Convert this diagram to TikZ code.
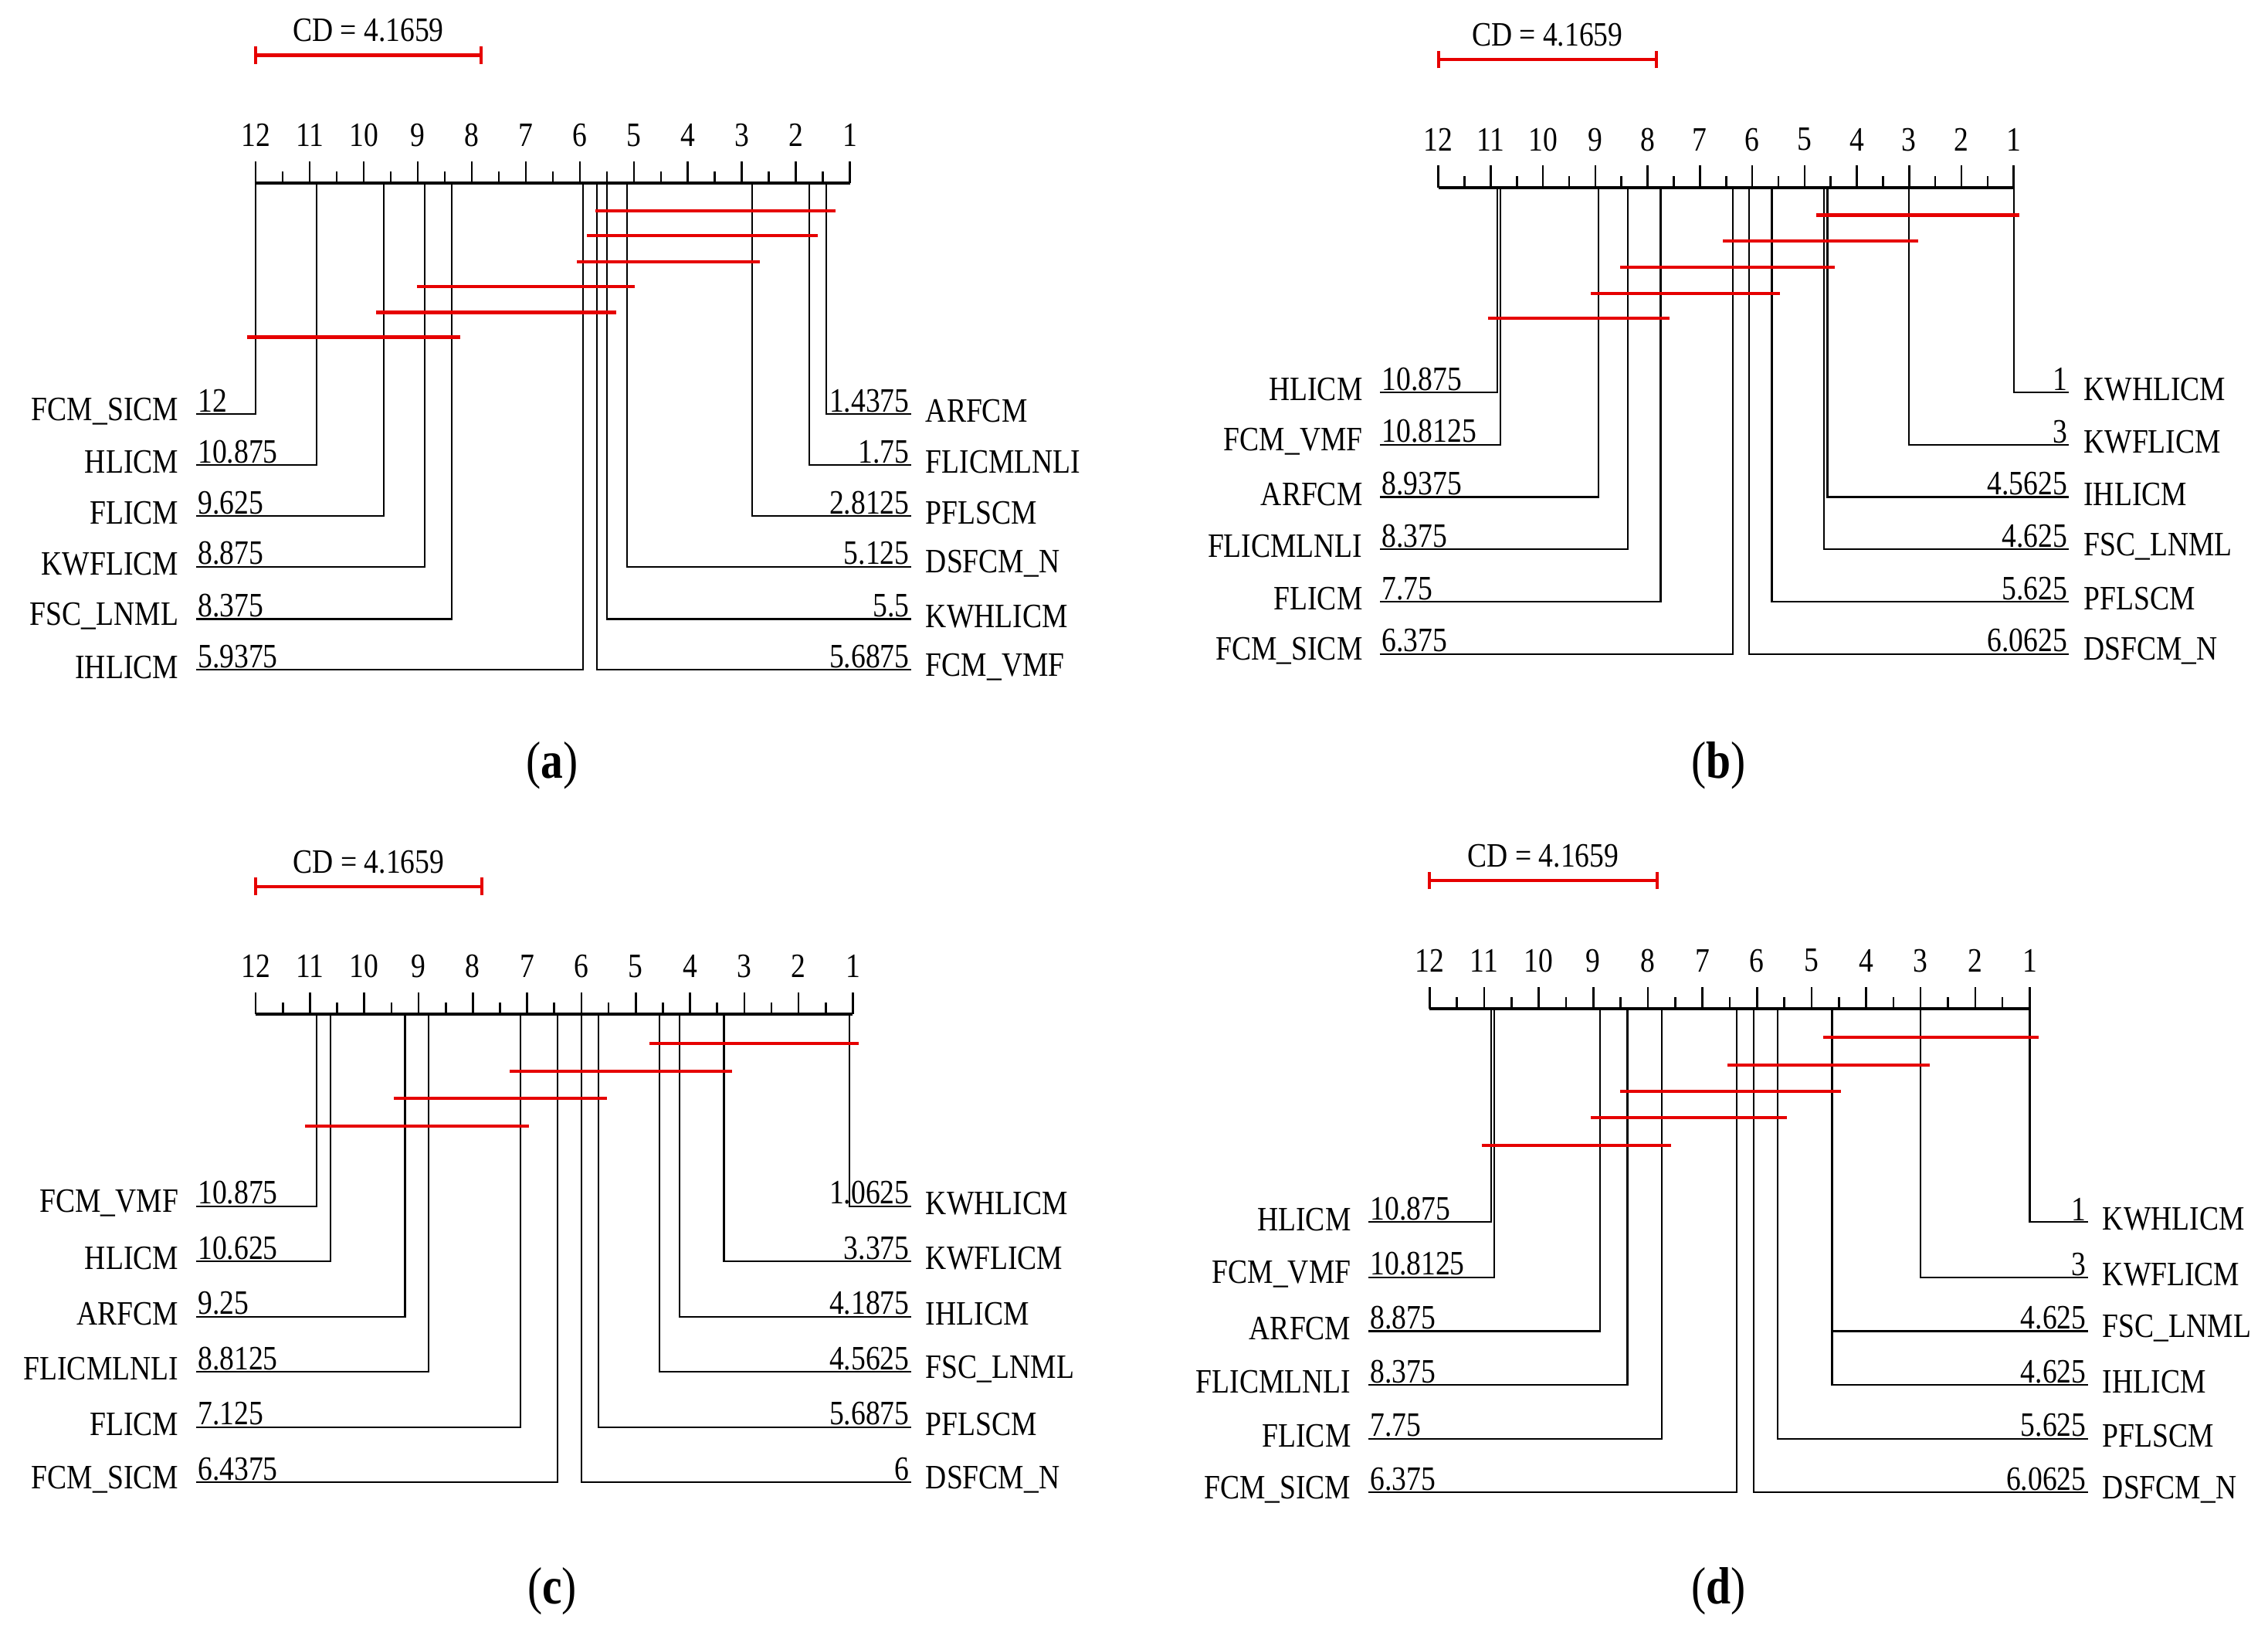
\documentclass[tikz,border=0pt]{standalone}
\usepackage{fontspec}
\setmainfont{Liberation Serif}[FakeStretch=0.85]
\usetikzlibrary{calc}
\definecolor{cdred}{RGB}{230,0,0}
\begin{document}
\newcommand\cdpanel[9]{%
  \pgfmathsetmacro\st{(#3-#2)/11}
  \draw[axis] (#2,#4) -- (#3,#4);
  \foreach \k in {0,...,22}{
    \pgfmathsetmacro\tx{#2+\k*\st/2}
    \ifodd\k \draw[tick] (\tx,#4) -- (\tx,#4-8); \else \draw[tick] (\tx,#4) -- (\tx,#4-15); \fi
  }
  \foreach \r in {1,...,12}{
    \pgfmathsetmacro\tx{#3-(\r-1)*\st}
    \node[lab] (#1t\r) at (\tx,#4-33) {\r};
  }
  \pgfmathsetmacro\cdx{#2+4.1659*\st}
  \coordinate (#1cda) at (#2,#4-88); \coordinate (#1cdb) at (\cdx,#4-88);
  \draw[redbar] (#1cda) -- (#1cdb);
  \draw[redbar] ([yshift=-6]#1cda) -- ([yshift=6]#1cda);
  \draw[redbar] ([yshift=-6]#1cdb) -- ([yshift=6]#1cdb);
  \node[lab] (#1cd) at ($(#1cda)!0.5!(#1cdb)+(0,-17)$) {CD = 4.1659};
  \foreach \y/\r/\n [count=\i] in {#5}{
    \pgfmathsetmacro\xx{#3-(\r-1)*\st}
    \coordinate (#1La\i) at (\xx,#4); \coordinate (#1Lb\i) at (#8,\y);
    \draw[conn] (#1La\i) |- (#1Lb\i);
    \node[lab,anchor=south west,inner sep=1pt] (#1Lv\i) at (#1Lb\i) {\r};
    \node[lab,anchor=east] (#1Ln\i) at (#8-12,\y-2) {\n};
  }
  \foreach \y/\r/\n [count=\i] in {#6}{
    \pgfmathsetmacro\xx{#3-(\r-1)*\st}
    \coordinate (#1Ra\i) at (\xx,#4); \coordinate (#1Rb\i) at (#9,\y);
    \draw[conn] (#1Ra\i) |- (#1Rb\i);
    \node[lab,anchor=south east,inner sep=1pt] (#1Rv\i) at (#1Rb\i) {\r};
    \node[lab,anchor=west] (#1Rn\i) at (#9+10,\y-2) {\n};
  }
  \foreach \y/\a/\b [count=\i] in {#7}{
    \coordinate (#1ba\i) at (\a,\y); \coordinate (#1bb\i) at (\b,\y);
    \draw[redbar] (#1ba\i) -- (#1bb\i);
  }
}
\begin{tikzpicture}[x=1pt,y=-1pt,
  lab/.style={font=\fontsize{23.5}{25}\selectfont,inner sep=0pt},
  captxt/.style={font=\fontsize{36}{38}\selectfont},
  axis/.style={line width=2pt},
  tick/.style={line width=1.4pt},
  conn/.style={line width=1.2pt},
  redbar/.style={draw=cdred,line width=2.2pt}]
\useasboundingbox (0,0) rectangle (1561,1123);
\cdpanel{a}{176}{585}{126}
 {285/12/FCM\_SICM,320/10.875/HLICM,355/9.625/FLICM,390/8.875/KWFLICM,426/8.375/FSC\_LNML,461/5.9375/IHLICM}
 {285/1.4375/ARFCM,320/1.75/FLICMLNLI,355/2.8125/PFLSCM,390/5.125/DSFCM\_N,426/5.5/KWHLICM,461/5.6875/FCM\_VMF}
 {145/410/575,162/404/563,180/397/523,197/287/437,215/259/424,232/170/317}{135}{627}
\cdpanel{b}{990}{1386}{129}
 {270/10.875/HLICM,306/10.8125/FCM\_VMF,342/8.9375/ARFCM,378/8.375/FLICMLNLI,414/7.75/FLICM,450/6.375/FCM\_SICM}
 {270/1/KWHLICM,306/3/KWFLICM,342/4.5625/IHLICM,378/4.625/FSC\_LNML,414/5.625/PFLSCM,450/6.0625/DSFCM\_N}
 {148/1250/1390,166/1186/1320,184/1115/1263,202/1095/1225,219/1024/1149}{950}{1424}
\cdpanel{c}{176}{587}{698}
 {830/10.875/FCM\_VMF,868/10.625/HLICM,906/9.25/ARFCM,944/8.8125/FLICMLNLI,982/7.125/FLICM,1020/6.4375/FCM\_SICM}
 {830/1.0625/KWHLICM,868/3.375/KWFLICM,906/4.1875/IHLICM,944/4.5625/FSC\_LNML,982/5.6875/PFLSCM,1020/6/DSFCM\_N}
 {718/447/591,737/351/504,756/271/418,775/210/364}{135}{627}
\cdpanel{d}{984}{1397}{694}
 {841/10.875/HLICM,879/10.8125/FCM\_VMF,916/8.875/ARFCM,953/8.375/FLICMLNLI,990/7.75/FLICM,1027/6.375/FCM\_SICM}
 {841/1/KWHLICM,879/3/KWFLICM,916/4.625/FSC\_LNML,953/4.625/IHLICM,990/5.625/PFLSCM,1027/6.0625/DSFCM\_N}
 {714/1255/1403,733/1189/1328,751/1115/1267,769/1095/1230,788/1020/1150}{942}{1437}
\node[captxt] (capa) at (380,527) {(\textbf{a})};
\node[captxt] (capb) at (1183,527) {(\textbf{b})};
\node[captxt] (capc) at (380,1095) {(\textbf{c})};
\node[captxt] (capd) at (1183,1095) {(\textbf{d})};
\end{tikzpicture}
\end{document}
